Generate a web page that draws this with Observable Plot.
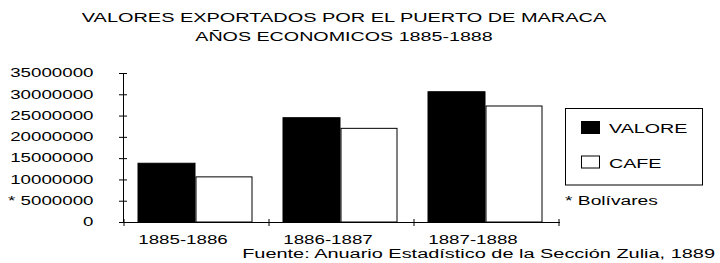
<!DOCTYPE html>
<html><head><meta charset="utf-8">
<script src="https://cdn.jsdelivr.net/npm/d3@7"></script>
<script src="https://cdn.jsdelivr.net/npm/@observablehq/plot@0.6"></script>
<style>
body{margin:0;background:#fff}
#wrap{position:relative;width:720px;height:263px;overflow:hidden}
#wrap svg{position:absolute;left:0;top:0}
</style>
</head><body><div id="wrap"></div>
<script>
// ---- data ----
const years = ["1885-1886", "1886-1887", "1887-1888"];
const valore = [13800000, 24500000, 30600000];
const cafe = [10600000, 22000000, 27250000];
const seriesNames = ["VALORE", "CAFE"];
const yTicks = [0, 5000000, 10000000, 15000000, 20000000, 25000000, 30000000, 35000000];
const titleLines = ["VALORES EXPORTADOS POR EL PUERTO DE MARACA", "AÑOS ECONOMICOS 1885-1888"];
const unitNote = "* Bolívares";
const sourceText = "Fuente: Anuario Estadístico de la Sección Zulia, 1889";

const rows = years.flatMap((yr, i) => [
  {year: yr, series: seriesNames[0], value: valore[i]},
  {year: yr, series: seriesNames[1], value: cafe[i]}
]);

const FONT = "'Liberation Sans', Arial, sans-serif";

const plot = Plot.plot({
  width: 720, height: 263,
  marginLeft: 123, marginRight: 160, marginTop: 73, marginBottom: 41,
  style: {fontFamily: FONT, fontSize: "12px", background: "transparent", color: "#000", overflow: "visible"},
  x: {domain: years, padding: 0, axis: null, label: null},
  y: {domain: [0, 35000000], axis: null, label: null},
  marks: [
    Plot.barY(rows.filter(d => d.series === seriesNames[0]), {x: "year", y: "value", fill: "#000", stroke: "#000", insetLeft: 14, insetRight: 74}),
    Plot.barY(rows.filter(d => d.series === seriesNames[1]), {x: "year", y: "value", fill: "#fff", stroke: "#000", insetLeft: 72, insetRight: 17}),
    Plot.ruleY([0], {stroke: "#000"}),
    Plot.frame({anchor: "left", stroke: "#000"}),
    Plot.axisY(yTicks, {tickSize: 8, dx: 4, tickFormat: () => "", stroke: "#000", label: null}),
    Plot.axisY(yTicks, {tickSize: 0, tickPadding: 30, fill: "#000", label: null, tickFormat: d => d === 5000000 ? "* " + d : String(d)}),
    Plot.axisX({tickSize: 0, tickPadding: 12.5, dx: -14, fill: "#000", label: null})
  ]
});
const wrap = document.getElementById("wrap");
wrap.appendChild(plot);

// x-axis ticks at band edges, from the plot's x scale
const xs = plot.scale("x");
const y0 = plot.scale("y").apply(0);
const edges = years.map(v => xs.apply(v)).concat([xs.apply(years[years.length - 1]) + xs.bandwidth]);
d3.select(plot).append("g").attr("stroke", "#000")
  .selectAll("line").data(edges).join("line")
  .attr("x1", d => d).attr("x2", d => d)
  .attr("y1", y0 - 3).attr("y2", y0 + 4);

// overlay: title, legend, note, source
const ov = d3.select(wrap).append("svg")
  .attr("width", 720).attr("height", 263)
  .style("font-family", FONT).style("font-size", "12px");
const T = (x, y, s, k, anchor) => ov.append("text").attr("x", x).attr("y", y)
  .attr("text-anchor", anchor || "start").attr("data-k", k).text(s);
T(344, 22, titleLines[0], 1.66, "middle");
T(344, 40.5, titleLines[1], 1.64, "middle");
ov.append("rect").attr("x", 565.5).attr("y", 108.5).attr("width", 137).attr("height", 76.5)
  .attr("fill", "none").attr("stroke", "#000");
const fills = ["#000", "#fff"];
seriesNames.forEach((s, i) => {
  const yy = 121 + i * 34.5;
  ov.append("rect").attr("x", 581.5).attr("y", yy + 0.5).attr("width", 18).attr("height", 12)
    .attr("fill", fills[i]).attr("stroke", "#000");
  T(609, yy + 12.3, s, 1.64);
});
T(565, 205, unitNote, 1.6);
T(715, 258, sourceText, 1.66, "end");

// horizontally stretched lettering like the original
document.querySelectorAll("#wrap text").forEach(t => {
  if (!t.textContent) return;
  const k = +(t.getAttribute("data-k") || 1.56);
  const w = t.getComputedTextLength();
  t.setAttribute("textLength", (w * k).toFixed(1));
  t.setAttribute("lengthAdjust", "spacingAndGlyphs");
});
</script>
</body></html>
